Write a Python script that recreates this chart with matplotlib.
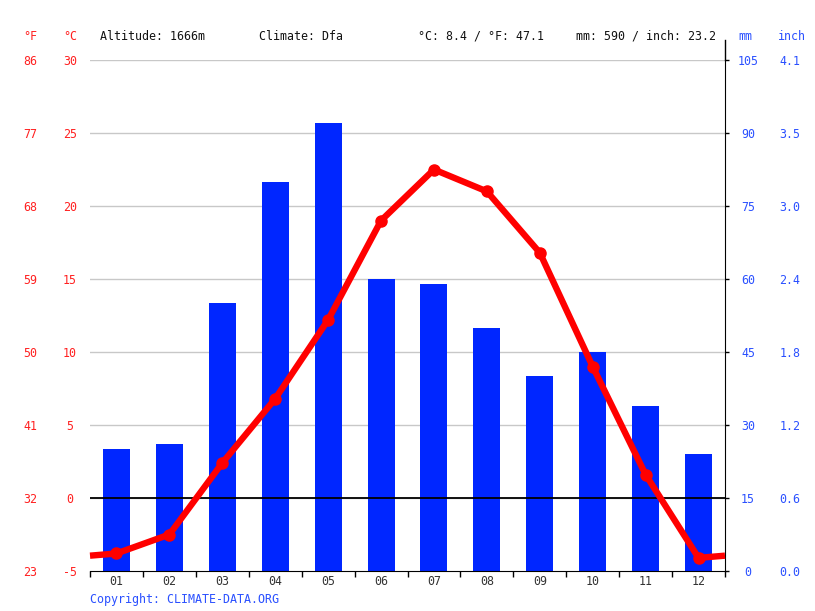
import matplotlib
matplotlib.use("Agg")
import matplotlib.pyplot as plt
from matplotlib.lines import Line2D

months = ["01", "02", "03", "04", "05", "06", "07", "08", "09", "10", "11", "12"]
precip_mm = [25, 26, 55, 80, 92, 60, 59, 50, 40, 45, 34, 24]
temp_c = [-3.8, -2.5, 2.4, 6.8, 12.2, 19.0, 22.5, 21.0, 16.8, 9.0, 1.6, -4.1]
c_ticks = [-5, 0, 5, 10, 15, 20, 25, 30]
f_labels = ["23", "32", "41", "50", "59", "68", "77", "86"]
mm_ticks = [0, 15, 30, 45, 60, 75, 90, 105]
inch_labels = ["0.0", "0.6", "1.2", "1.8", "2.4", "3.0", "3.5", "4.1"]
header = ["Altitude: 1666m", "Climate: Dfa", "°C: 8.4 / °F: 47.1", "mm: 590 / inch: 23.2"]

FONT = "DejaVu Sans Mono"
RED_T = "#ff2020"
BLUE_T = "#2a50ff"
BAR = "#0026ff"
LINE = "#ff0000"
FS = 8.4
PX = 72 / 100  # points per pixel

W, H = 815, 611
fig = plt.figure(figsize=(W / 100, H / 100), dpi=100)
L, R, T, B = 90, 725, 60, 571
ax_mm = fig.add_axes([L / W, 1 - B / H, (R - L) / W, (B - T) / H])
ax_t = ax_mm.twinx()
ax_t.set_zorder(ax_mm.get_zorder() + 1)
ax_t.patch.set_visible(False)

x = [i + 0.5 for i in range(12)]

# precipitation bars
ax_mm.set_xlim(0, 12)
ax_mm.set_ylim(0, 105)
for yv in mm_ticks[1:]:
    ax_mm.axhline(yv, color="#c8c8c8", lw=1, zorder=0)
ax_mm.bar(x, precip_mm, width=0.51, color=BAR, zorder=2)
ax_mm.set_yticks(mm_ticks)
ax_mm.set_yticklabels([str(v) for v in mm_ticks])
ax_mm.yaxis.tick_right()
ax_mm.tick_params(axis="y", which="both", right=True, left=False, length=4 * PX, width=1,
                  pad=19 * PX, colors="black", labelcolor=BLUE_T, labelsize=FS)
for lab in ax_mm.get_yticklabels():
    lab.set_fontfamily(FONT)
    lab.set_horizontalalignment("center")
ax_mm.set_xticks(range(13), minor=False)
ax_mm.set_xticklabels([])
ax_mm.set_xticks(x, minor=True)
ax_mm.set_xticklabels(months, minor=True)
ax_mm.tick_params(axis="x", which="major", length=6 * PX, width=1, direction="out", color="black")
ax_mm.tick_params(axis="x", which="minor", length=0, pad=4 * PX, labelsize=FS, labelcolor="#333333")
for lab in ax_mm.get_xticklabels(minor=True):
    lab.set_fontfamily(FONT)
for s in ["top", "left"]:
    ax_mm.spines[s].set_visible(False)
ax_mm.spines["right"].set_visible(True)
ax_mm.spines["bottom"].set_color("black")

# inch axis
sec_in = ax_mm.secondary_yaxis("right")
sec_in.set_yticks(mm_ticks)
sec_in.set_yticklabels(inch_labels)
sec_in.tick_params(length=0, pad=65 * PX, labelcolor=BLUE_T, labelsize=FS)
sec_in.spines["right"].set_visible(False)
for lab in sec_in.get_yticklabels():
    lab.set_fontfamily(FONT)
    lab.set_horizontalalignment("center")

# temperature
ax_t.set_ylim(-5, 30)
ax_t.set_xlim(0, 12)
ax_t.axhline(0, color="black", lw=1.3, zorder=3)
edge = (temp_c[0] + temp_c[-1]) / 2
ax_t.plot([0] + x + [12], [edge] + temp_c + [edge], color=LINE, lw=4.6,
          solid_capstyle="butt", zorder=4, clip_on=False)
ax_t.plot(x, temp_c, "o", color=LINE, ms=8, zorder=5)
ax_t.yaxis.tick_left()
ax_t.set_yticks(c_ticks)
ax_t.set_yticklabels([str(v) for v in c_ticks])
ax_t.tick_params(axis="y", length=0, pad=20 * PX, labelcolor=RED_T, labelsize=FS, left=False, right=False)
for lab in ax_t.get_yticklabels():
    lab.set_fontfamily(FONT)
    lab.set_horizontalalignment("center")
for s in ax_t.spines.values():
    s.set_visible(False)

sec_f = ax_t.secondary_yaxis("left")
sec_f.set_yticks(c_ticks)
sec_f.set_yticklabels(f_labels)
sec_f.tick_params(length=0, pad=60 * PX, labelcolor=RED_T, labelsize=FS)
sec_f.spines["left"].set_visible(False)
for lab in sec_f.get_yticklabels():
    lab.set_fontfamily(FONT)
    lab.set_horizontalalignment("center")

# right spine extension above the plot
fig.add_artist(Line2D([R / W, R / W], [1 - 40 / H, 1 - T / H], color="black", lw=1,
                      transform=fig.transFigure))

# header texts
ty = 1 - 36 / H
fig.text(30 / W, ty, "°F", color=RED_T, fontsize=FS, family=FONT, ha="center", va="center")
fig.text(70 / W, ty, "°C", color=RED_T, fontsize=FS, family=FONT, ha="center", va="center")
for xp, s in zip([100, 259, 418, 576], header):
    fig.text(xp / W, ty, s, color="#111111", fontsize=FS, family=FONT, ha="left", va="center")
fig.text(745 / W, ty, "mm", color=BLUE_T, fontsize=FS, family=FONT, ha="center", va="center")
fig.text(792 / W, ty, "inch", color=BLUE_T, fontsize=FS, family=FONT, ha="center", va="center")
fig.text(90 / W, 1 - 599 / H, "Copyright: CLIMATE-DATA.ORG", color=BLUE_T, fontsize=FS,
         family=FONT, ha="left", va="center")

fig.savefig("out.png", dpi=100)
